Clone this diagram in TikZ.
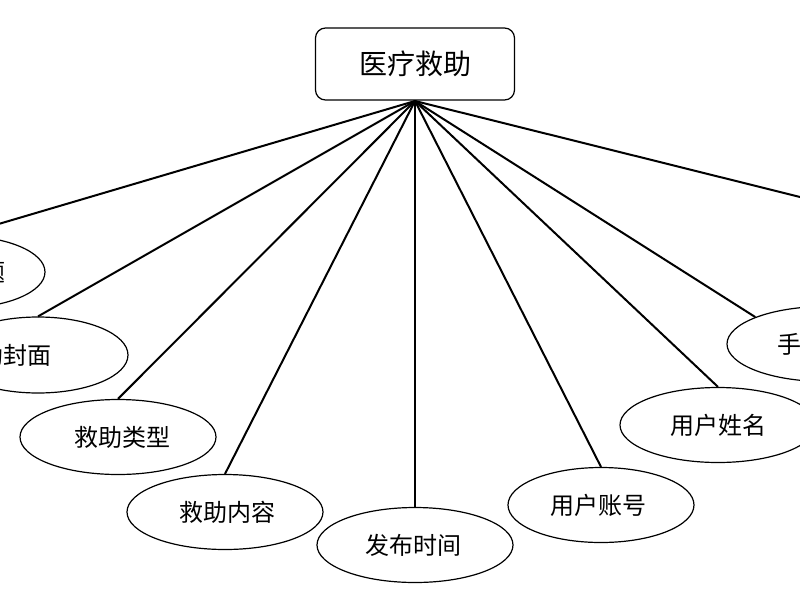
\documentclass[tikz,border=0pt]{standalone}
\usepackage{fontspec}
\usetikzlibrary{shapes.geometric}
\newfontfamily\cjk{Noto Sans CJK SC}
\begin{document}
\begin{tikzpicture}[x=1pt,y=-1pt,
  attr/.style={draw,line width=1.2pt,ellipse,minimum width=196pt,minimum height=75pt,inner sep=0pt},
  lab/.style={font=\cjk\fontsize{24}{28}\selectfont},
  conn/.style={line width=2pt}]
\useasboundingbox (0,0) rectangle (800,600);
\clip (0,0) rectangle (800,600);
\node[draw,line width=1.2pt,rounded corners=10pt,minimum width=199pt,minimum height=72pt,font=\cjk\fontsize{28}{32}\selectfont] (top) at (415,64) {医疗救助};
\coordinate (hub) at (415,101);
\node[attr,minimum width=170pt,minimum height=72pt] (e1) at (-40,272) {};
\node[lab,anchor=east] at (9,272) {标题};
\node[attr,minimum width=180pt,minimum height=76pt] (e2) at (38,355) {};
\node[lab,anchor=east] at (55,355) {救助封面};
\node[attr] (e3) at (118,437) {}; \node[lab] at (122,437) {救助类型};
\node[attr] (e4) at (225,512) {}; \node[lab] at (227,512) {救助内容};
\node[attr] (e5) at (415,545) {}; \node[lab] at (413,545) {发布时间};
\node[attr,minimum width=186pt] (e6) at (601,505) {}; \node[lab] at (598,505) {用户账号};
\node[attr] (e7) at (718,425) {}; \node[lab] at (718,425) {用户姓名};
\node[attr] (e8) at (825,344) {}; \node[lab] at (825,344) {手机号码};
\node[attr] (e9) at (900,260) {}; \node[lab] at (900,260) {备注};
\draw[conn] (hub) -- (e1.north);
\draw[conn] (hub) -- (e2.north);
\draw[conn] (hub) -- (e3.north);
\draw[conn] (hub) -- (e4.north);
\draw[conn] (hub) -- (e5.north);
\draw[conn] (hub) -- (e6.north);
\draw[conn] (hub) -- (e7.north);
\draw[conn] (hub) -- (e8.north west);
\draw[conn] (hub) -- (e9.north);
\end{tikzpicture}
\end{document}
